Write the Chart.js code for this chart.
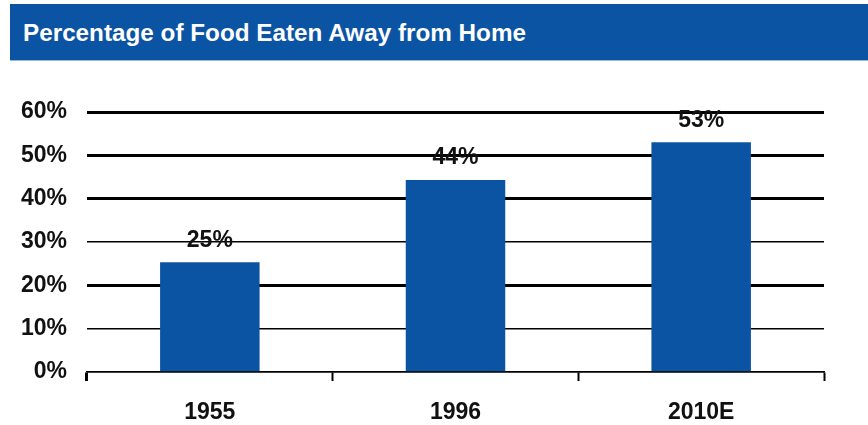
<!DOCTYPE html>
<html><head><meta charset="utf-8">
<script src="https://cdn.jsdelivr.net/npm/chart.js@4.4.1/dist/chart.umd.min.js"></script>
<style>
html,body{margin:0;padding:0;background:#fff;width:868px;height:425px;overflow:hidden;}
#wrap{position:relative;width:868px;height:425px;}
#hdr{position:absolute;left:10px;top:4px;width:858px;height:57px;background:#0b54a4;border-bottom:1px solid #9ab6da;box-sizing:border-box;}
#ttl{position:absolute;left:13px;top:17px;color:#fff;font-weight:bold;font-size:24px;line-height:24px;font-family:"Liberation Sans",Arial,sans-serif;white-space:nowrap;transform-origin:0 0;}
canvas{position:absolute;left:0;top:0;}
</style></head>
<body>
<div id="wrap">
<canvas id="c" width="868" height="425"></canvas>
<div id="hdr"><div id="ttl">Percentage of Food Eaten Away from Home</div></div>
</div>
<script>
const titleText = "Percentage of Food Eaten Away from Home";
const categories = ["1955", "1996", "2010E"];
const values = [25.3, 44.3, 53.0];
const valueLabels = ["25%", "44%", "53%"];
const yTicks = [0, 10, 20, 30, 40, 50, 60];
const thickGrid = [20, 40, 50, 60];

// fit title width
(function(){
  const t = document.getElementById('ttl');
  const w = t.getBoundingClientRect().width;
  const target = 503;
  t.style.transform = 'scaleX(' + (target / w) + ')';
})();

const FONT = '"Liberation Sans", Arial, sans-serif';
const barLabels = {
  id: 'barLabels',
  afterDatasetsDraw(chart) {
    const ctx = chart.ctx;
    const meta = chart.getDatasetMeta(0);
    ctx.save();
    ctx.font = 'bold 23px ' + FONT;
    ctx.fillStyle = '#111';
    ctx.textAlign = 'center';
    ctx.textBaseline = 'middle';
    meta.data.forEach((bar, i) => {
      ctx.fillText(valueLabels[i], bar.x, bar.y - 22);
    });
    ctx.restore();
  }
};

new Chart(document.getElementById('c'), {
  type: 'bar',
  data: {
    labels: categories,
    datasets: [{
      data: values,
      backgroundColor: '#0b54a4',
      borderWidth: 0,
      categoryPercentage: 1.0,
      barPercentage: 0.405
    }]
  },
  plugins: [barLabels],
  options: {
    responsive: false,
    animation: false,
    events: [],
    layout: { padding: { top: 112, left: 0, right: 44, bottom: 0 } },
    plugins: { legend: { display: false }, tooltip: { enabled: false }, title: { display: false } },
    scales: {
      y: {
        min: 0, max: 60,
        afterBuildTicks(scale) { scale.ticks = yTicks.map(v => ({ value: v })); },
        afterFit(scale) { scale.width = 87; },
        ticks: {
          callback: v => v + '%',
          font: { family: FONT, size: 23, weight: 'bold' },
          color: '#111',
          padding: 20
        },
        grid: {
          color: '#000',
          lineWidth: c => (c.tick && thickGrid.includes(c.tick.value)) ? 3 : 1.5,
          drawTicks: false
        },
        border: { display: false }
      },
      x: {
        afterFit(scale) { scale.height = 53; },
        ticks: {
          font: { family: FONT, size: 23, weight: 'bold' },
          color: '#111',
          padding: 18
        },
        grid: {
          offset: true,
          drawOnChartArea: false,
          drawTicks: true,
          tickLength: 9,
          tickColor: '#000',
          tickWidth: c => (c.index === 0 || c.index === 3) ? 3 : 2
        },
        border: { display: true, color: '#000', width: 1.5 }
      }
    }
  }
});
</script>
</body></html>
